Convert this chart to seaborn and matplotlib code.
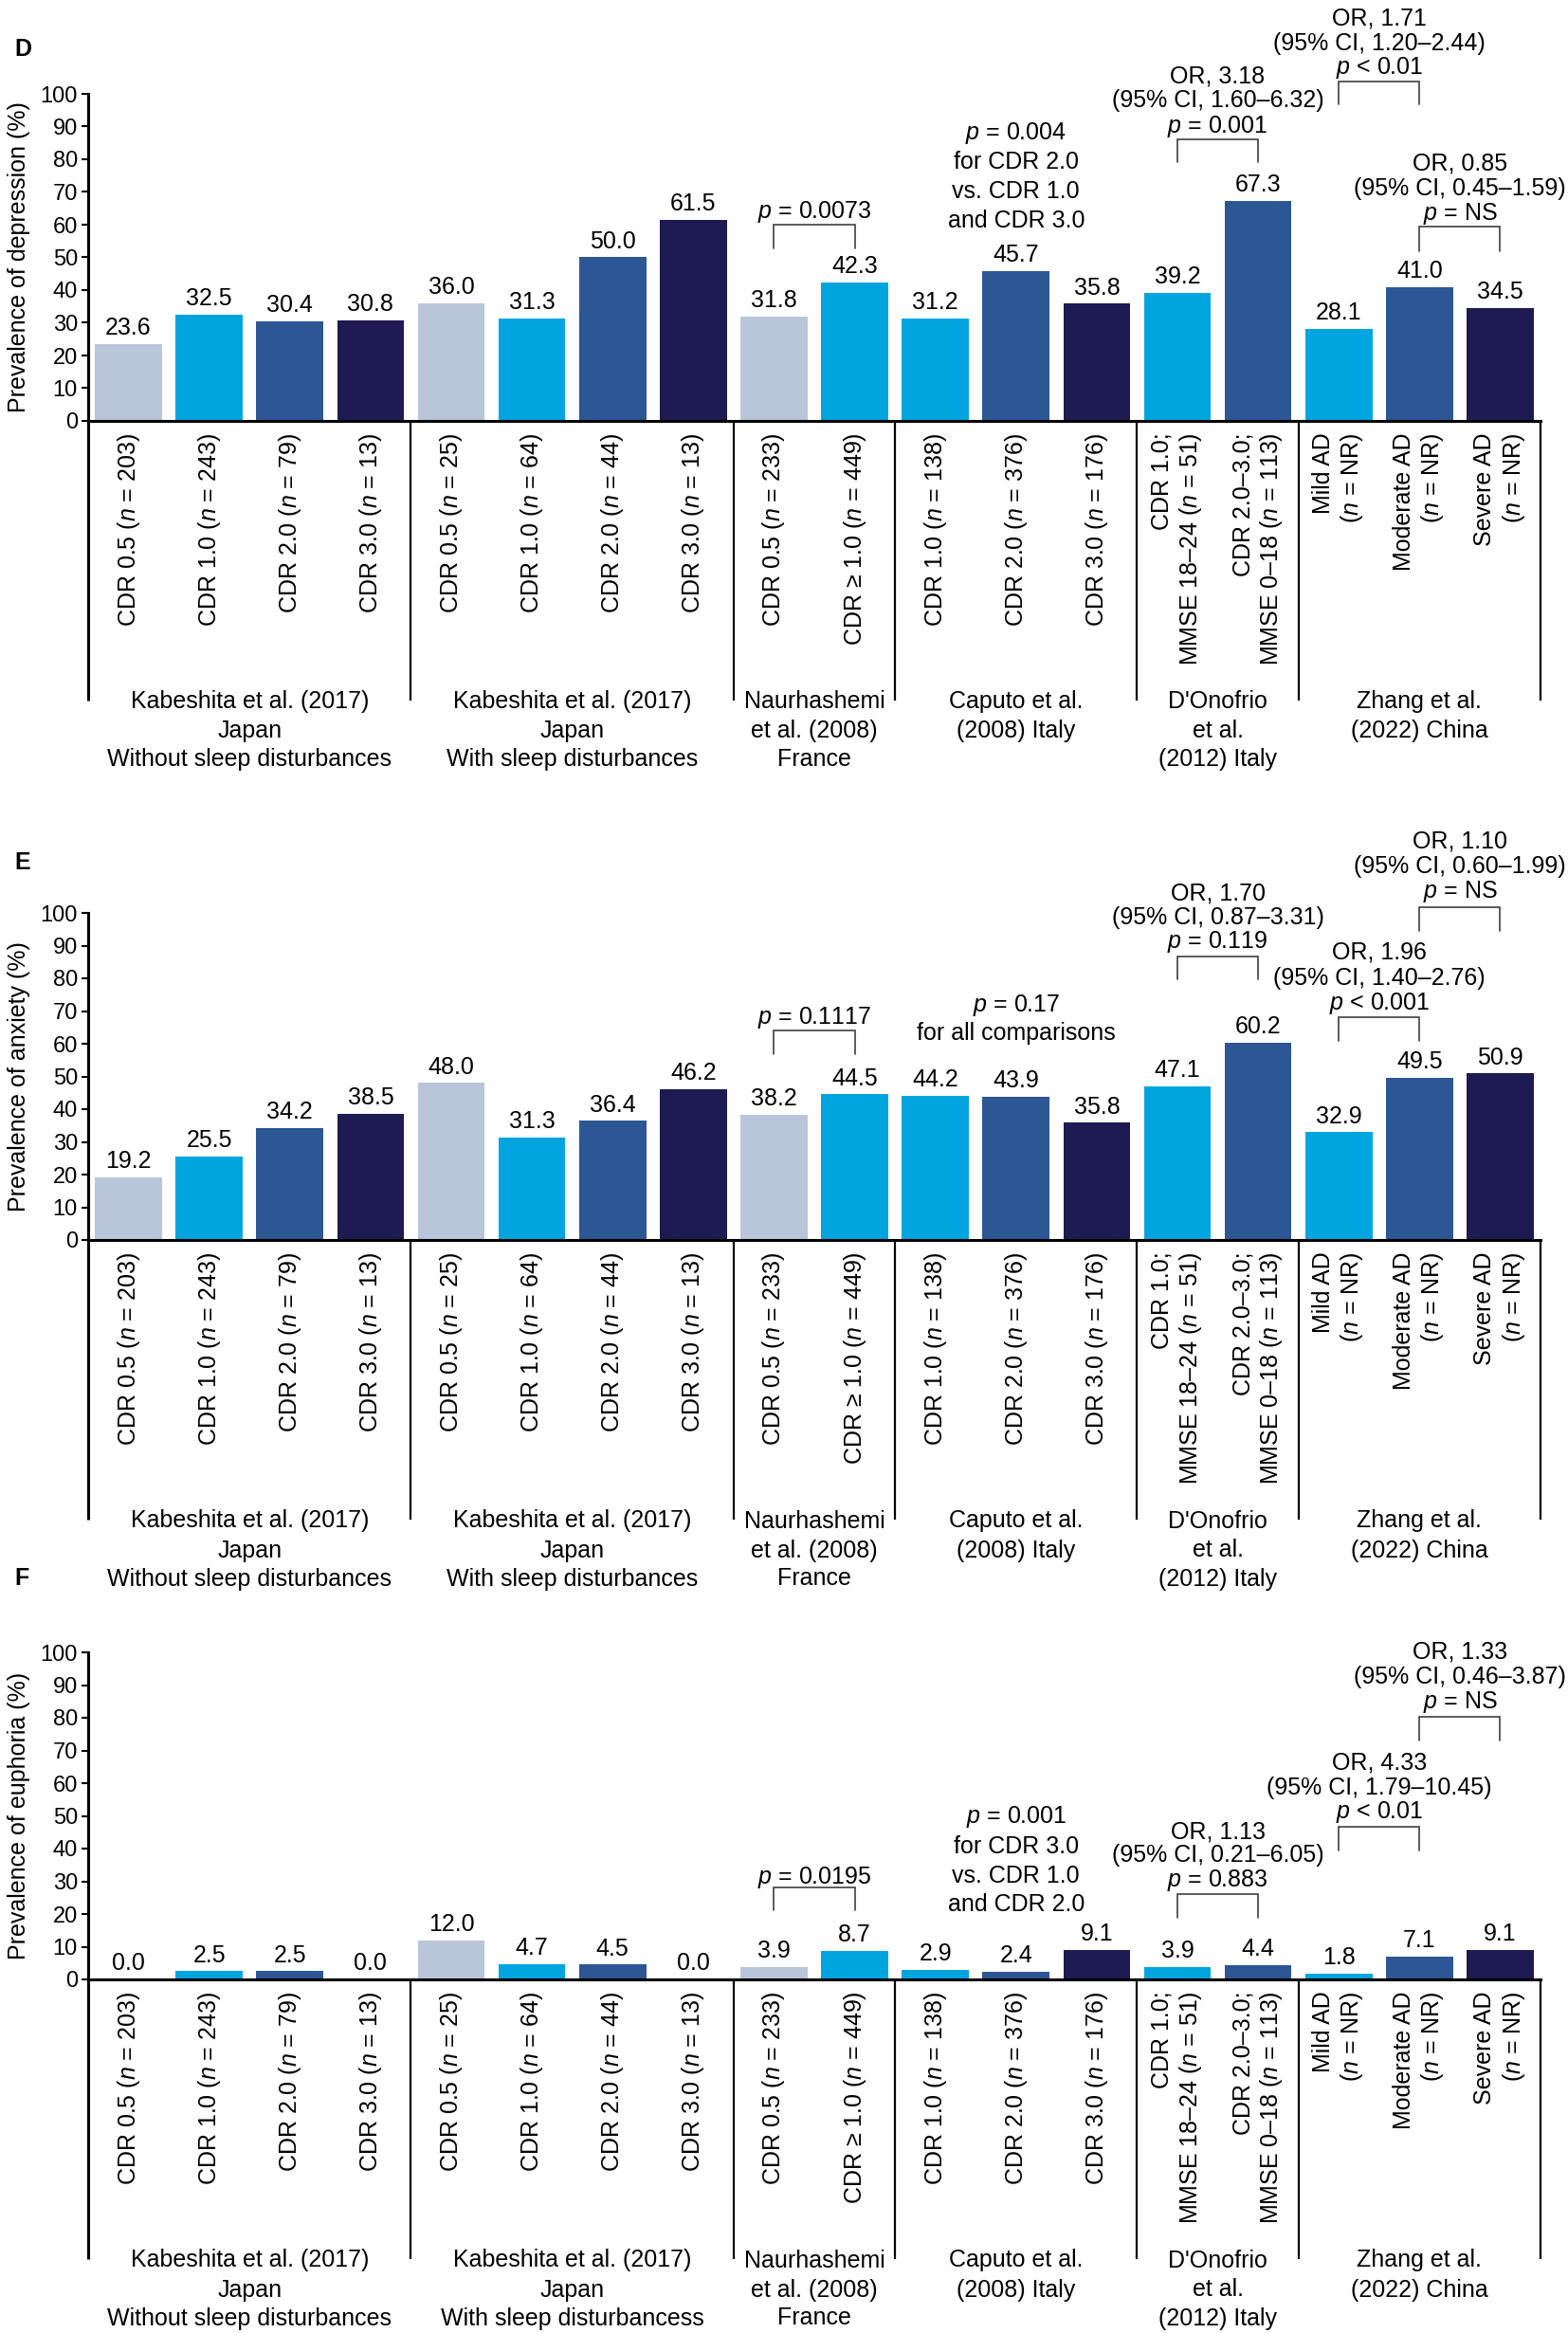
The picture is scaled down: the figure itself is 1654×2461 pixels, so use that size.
import numpy as np
import pandas as pd
import matplotlib
matplotlib.use("Agg")
import matplotlib.pyplot as plt
import seaborn as sns

sns.set_theme(style="white")
plt.rcParams["font.family"] = ["Liberation Sans", "DejaVu Sans"]
plt.rcParams["mathtext.fontset"] = "custom"
plt.rcParams["mathtext.rm"] = "Liberation Sans"
plt.rcParams["mathtext.it"] = "Liberation Sans:italic"
plt.rcParams["mathtext.bf"] = "Liberation Sans:bold"

# ---------------- data ----------------
tick_labels = [
    "CDR 0.5 ($n$ = 203)", "CDR 1.0 ($n$ = 243)", "CDR 2.0 ($n$ = 79)", "CDR 3.0 ($n$ = 13)",
    "CDR 0.5 ($n$ = 25)", "CDR 1.0 ($n$ = 64)", "CDR 2.0 ($n$ = 44)", "CDR 3.0 ($n$ = 13)",
    "CDR 0.5 ($n$ = 233)", "CDR \u2265 1.0 ($n$ = 449)",
    "CDR 1.0 ($n$ = 138)", "CDR 2.0 ($n$ = 376)", "CDR 3.0 ($n$ = 176)",
    "CDR 1.0;\nMMSE 18\u201324 ($n$ = 51)", "CDR 2.0\u20133.0;\nMMSE 0\u201318 ($n$ = 113)",
    "Mild AD\n($n$ = NR)", "Moderate AD\n($n$ = NR)", "Severe AD\n($n$ = NR)",
]
group_sizes = [4, 4, 2, 3, 2, 3]
groups_DE = [
    ["Kabeshita et al. (2017)", "Japan", "Without sleep disturbances"],
    ["Kabeshita et al. (2017)", "Japan", "With sleep disturbances"],
    ["Naurhashemi", "et al. (2008)", "France"],
    ["Caputo et al.", "(2008) Italy"],
    ["D'Onofrio", "et al.", "(2012) Italy"],
    ["Zhang et al.", "(2022) China"],
]
groups_F = [
    ["Kabeshita et al. (2017)", "Japan", "Without sleep disturbances"],
    ["Kabeshita et al. (2017)", "Japan", "With sleep disturbancess"],
    ["Naurhashemi", "et al. (2008)", "France"],
    ["Caputo et al.", "(2008) Italy"],
    ["D'Onofrio", "et al.", "(2012) Italy"],
    ["Zhang et al.", "(2022) China"],
]
shade = [0, 1, 2, 3, 0, 1, 2, 3, 0, 1, 1, 2, 3, 1, 2, 1, 2, 3]
depression = [23.6, 32.5, 30.4, 30.8, 36.0, 31.3, 50.0, 61.5, 31.8, 42.3,
              31.2, 45.7, 35.8, 39.2, 67.3, 28.1, 41.0, 34.5]
anxiety = [19.2, 25.5, 34.2, 38.5, 48.0, 31.3, 36.4, 46.2, 38.2, 44.5,
           44.2, 43.9, 35.8, 47.1, 60.2, 32.9, 49.5, 50.9]
euphoria = [0.0, 2.5, 2.5, 0.0, 12.0, 4.7, 4.5, 0.0, 3.9, 8.7,
            2.9, 2.4, 9.1, 3.9, 4.4, 1.8, 7.1, 9.1]
ylabels = ["Prevalence of depression (%)", "Prevalence of anxiety (%)",
           "Prevalence of euphoria (%)"]
letters = ["D", "E", "F"]

# annotation texts
ann_D = [
    ["$p$ = 0.0073"],
    ["$p$ = 0.004", "for CDR 2.0", "vs. CDR 1.0", "and CDR 3.0"],
    ["OR, 3.18", "(95% CI, 1.60\u20136.32)", "$p$ = 0.001"],
    ["OR, 1.71", "(95% CI, 1.20\u20132.44)", "$p$ < 0.01"],
    ["OR, 0.85", "(95% CI, 0.45\u20131.59)", "$p$ = NS"],
]
ann_E = [
    ["$p$ = 0.1117"],
    ["$p$ = 0.17", "for all comparisons"],
    ["OR, 1.70", "(95% CI, 0.87\u20133.31)", "$p$ = 0.119"],
    ["OR, 1.96", "(95% CI, 1.40\u20132.76)", "$p$ < 0.001"],
    ["OR, 1.10", "(95% CI, 0.60\u20131.99)", "$p$ = NS"],
]
ann_F = [
    ["$p$ = 0.0195"],
    ["$p$ = 0.001", "for CDR 3.0", "vs. CDR 1.0", "and CDR 2.0"],
    ["OR, 1.13", "(95% CI, 0.21\u20136.05)", "$p$ = 0.883"],
    ["OR, 4.33", "(95% CI, 1.79\u201310.45)", "$p$ < 0.01"],
    ["OR, 1.33", "(95% CI, 0.46\u20133.87)", "$p$ = NS"],
]

# ---------------- layout (positions, not data) ----------------
palette = ["#B9C5DA", "#00A5E0", "#2C5794", "#1E1A52"]
ann_x = [8.5, 11.0, 13.5, 15.5, 16.5]
ann_y = {
    "D": [[64.9], [89.0, 80.0, 71.0, 62.0], [106.0, 98.6, 91.0],
          [123.8, 116.2, 109.0], [79.4, 71.6, 64.3]],
    "E": [[69.0], [72.7, 63.8], [106.7, 99.4, 92.2],
          [88.7, 80.6, 73.3], [122.6, 114.8, 107.5]],
    "F": [[32.2], [50.7, 41.4, 32.2, 23.5], [45.8, 38.6, 31.3],
          [67.0, 59.4, 52.2], [100.9, 93.1, 85.8]],
}
# brackets: (left bar, right bar, top y, leg bottom y)
brackets = {
    "D": [(8, 9, 60.0, 52.8), (13, 14, 86.0, 79.0), (15, 16, 103.8, 96.8), (16, 17, 59.4, 51.9)],
    "E": [(8, 9, 64.0, 56.8), (13, 14, 86.7, 79.7), (15, 16, 68.1, 60.9), (16, 17, 101.7, 94.5)],
    "F": [(8, 9, 28.1, 21.2), (13, 14, 26.1, 18.8), (15, 16, 46.7, 39.4), (16, 17, 80.3, 73.0)],
}

PX_W, PX_H = 1654, 2461
AX_L, AX_R, AX_HPX = 93, 1625, 345
baselines = [444, 1308, 2088]
letter_y = [52, 910, 1665]
group_line_px = [294, 325, 355]
sep_bottom_px = 295
FS = 18

fig = plt.figure(figsize=(PX_W / 100, PX_H / 100), dpi=100)

panels = [
    ("D", depression, groups_DE, ann_D),
    ("E", anxiety, groups_DE, ann_E),
    ("F", euphoria, groups_F, ann_F),
]

keys = [f"k{i:02d}" for i in range(len(tick_labels))]
for pi, (letter, values, groups, anns) in enumerate(panels):
    base = baselines[pi]
    ax = fig.add_axes([AX_L / PX_W, (PX_H - base) / PX_H,
                       (AX_R - AX_L) / PX_W, AX_HPX / PX_H])
    df = pd.DataFrame({"key": keys, "value": values,
                       "shade": [palette[s] for s in shade]})
    pal = dict(zip(df["key"], df["shade"]))
    sns.barplot(data=df, x="key", y="value", hue="key", order=keys,
                hue_order=keys, palette=pal, legend=False, width=0.83,
                saturation=1, linewidth=0, ax=ax)
    for c in ax.containers:
        ax.bar_label(c, fmt="%.1f", padding=3.5, fontsize=FS, color="black")

    ax.set_xlim(-0.5, len(keys) - 0.5)
    ax.set_ylim(0, 100)
    ax.set_yticks(np.arange(0, 101, 10))
    ax.set_xticks(range(len(keys)))
    ax.set_xticklabels(tick_labels)
    for lbl in ax.get_xticklabels():
        lbl.set_rotation(90)
        lbl.set_multialignment("right")
        lbl.set_horizontalalignment("center")
        lbl.set_verticalalignment("top")
    ax.set_xlabel("")
    ax.set_ylabel(ylabels[pi], fontsize=FS, color="black")
    ax.yaxis.set_label_coords((32 - AX_L) / (AX_R - AX_L), 0.5)

    for s in ["top", "right"]:
        ax.spines[s].set_visible(False)
    for s in ["left", "bottom"]:
        ax.spines[s].set_color("black")
        ax.spines[s].set_linewidth(2.2)
    ax.tick_params(axis="y", left=True, direction="out", length=5, width=1.5,
                   pad=3, labelsize=17, colors="black")
    ax.tick_params(axis="x", bottom=False, length=0, pad=9, labelsize=FS,
                   colors="black")
    ax.set_facecolor("white")

    # group separators and group labels
    xt = ax.get_xaxis_transform()
    sep_frac = -sep_bottom_px / AX_HPX
    bounds = np.concatenate([[0], np.cumsum(group_sizes)]) - 0.5
    for j, xb in enumerate(bounds):
        ax.plot([xb, xb], [0, sep_frac], transform=xt, color="black",
                lw=2.2 if j == 0 else 1.6, clip_on=False,
                solid_capstyle="butt")
    for j, g in enumerate(groups):
        cx = (bounds[j] + bounds[j + 1]) / 2
        for k, line in enumerate(g):
            ax.text(cx, -group_line_px[k] / AX_HPX, line, transform=xt,
                    ha="center", va="center_baseline", fontsize=FS,
                    color="black", clip_on=False)

    # annotations
    for x, lines, ys in zip(ann_x, anns, ann_y[letter]):
        for t, y in zip(lines, ys):
            ax.text(x, y, t, ha="center", va="center_baseline", fontsize=FS,
                    color="black", clip_on=False)
    for x1, x2, yt, yb in brackets[letter]:
        ax.plot([x1, x1, x2, x2], [yb, yt, yt, yb], color="#404040", lw=1.2,
                clip_on=False, solid_joinstyle="miter")

    fig.text(15 / PX_W, 1 - letter_y[pi] / PX_H, letter, fontsize=FS,
             fontweight="bold", ha="left", va="center", color="black")

fig.savefig("out.png", dpi=100, facecolor="white")
